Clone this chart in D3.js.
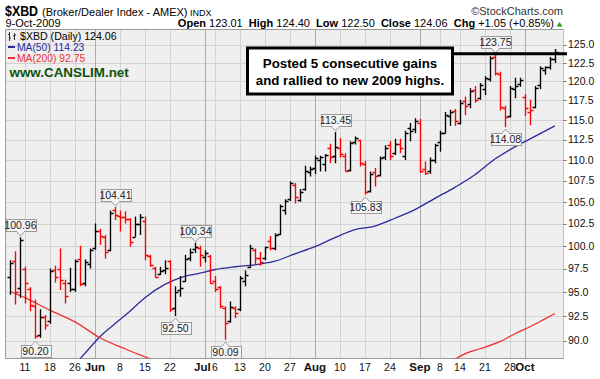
<!DOCTYPE html>
<html><head><meta charset="utf-8">
<script src="https://cdn.jsdelivr.net/npm/d3@7"></script>
<style>
body{margin:0;background:#fff}
svg{display:block}
text{font-family:"Liberation Sans",Arial,sans-serif}
</style>
</head><body><svg id="c" width="600" height="379"></svg>
<script>
// ---------- data ----------
const dates = [
"2009-05-06","2009-05-07","2009-05-08","2009-05-11","2009-05-12","2009-05-13","2009-05-14","2009-05-15","2009-05-18","2009-05-19","2009-05-20","2009-05-21","2009-05-22","2009-05-26","2009-05-27","2009-05-28","2009-05-29",
"2009-06-01","2009-06-02","2009-06-03","2009-06-04","2009-06-05","2009-06-08","2009-06-09","2009-06-10","2009-06-11","2009-06-12","2009-06-15","2009-06-16","2009-06-17","2009-06-18","2009-06-19","2009-06-22","2009-06-23","2009-06-24","2009-06-25","2009-06-26","2009-06-29","2009-06-30",
"2009-07-01","2009-07-02","2009-07-06","2009-07-07","2009-07-08","2009-07-09","2009-07-10","2009-07-13","2009-07-14","2009-07-15","2009-07-16","2009-07-17","2009-07-20","2009-07-21","2009-07-22","2009-07-23","2009-07-24","2009-07-27","2009-07-28","2009-07-29","2009-07-30","2009-07-31",
"2009-08-03","2009-08-04","2009-08-05","2009-08-06","2009-08-07","2009-08-10","2009-08-11","2009-08-12","2009-08-13","2009-08-14","2009-08-17","2009-08-18","2009-08-19","2009-08-20","2009-08-21","2009-08-24","2009-08-25","2009-08-26","2009-08-27","2009-08-28","2009-08-31",
"2009-09-01","2009-09-02","2009-09-03","2009-09-04","2009-09-08","2009-09-09","2009-09-10","2009-09-11","2009-09-14","2009-09-15","2009-09-16","2009-09-17","2009-09-18","2009-09-21","2009-09-22","2009-09-23","2009-09-24","2009-09-25","2009-09-28","2009-09-29","2009-09-30",
"2009-10-01","2009-10-02","2009-10-05","2009-10-06","2009-10-07","2009-10-08","2009-10-09"];

const open = [
96.6,98.3,95.4,97.5,95.3,93.5,90.6,92.4,92.0,97.3,97.5,96.0,96.0,95.3,98.5,96.0,98.0,
99.8,101.6,101.0,99.5,104.0,103.4,103.3,103.0,101.0,102.5,102.8,98.9,97.6,96.9,97.3,98.3,93.3,95.2,96.2,98.6,99.6,99.8,
98.8,98.9,96.2,95.5,93.3,92.0,93.3,93.2,96.2,97.7,99.5,98.6,98.6,100.5,99.8,101.3,104.0,105.3,107.0,105.2,106.5,108.5,
109.0,110.0,109.5,111.5,110.5,111.5,110.5,108.8,112.2,112.4,109.5,106.3,108.5,108.2,110.4,111.8,110.8,112.0,110.5,114.0,113.8,
114.6,108.9,108.6,110.0,112.2,113.3,115.5,116.1,114.6,117.4,117.0,118.9,117.8,119.0,120.3,123.3,121.0,116.5,115.5,119.0,119.6,
118.0,116.0,116.6,119.5,121.5,122.0,123.01];

const high = [
98.4,99.4,100.96,97.7,95.5,94.2,93.2,92.6,97.5,97.8,99.7,96.3,97.6,98.5,100.0,98.5,99.7,
102.5,101.9,101.2,104.0,104.41,104.0,103.9,103.1,103.3,103.6,103.3,99.0,97.7,97.7,98.4,98.4,95.6,96.7,99.0,99.7,100.34,100.0,
99.5,99.0,96.7,95.6,93.5,94.0,93.5,96.7,97.3,100.1,99.7,99.3,99.9,101.1,101.4,104.7,105.3,107.4,107.2,106.5,109.3,109.2,
110.5,110.5,110.7,112.0,113.45,112.7,110.8,112.3,112.9,112.5,109.9,108.6,109.0,110.4,111.8,112.3,112.6,112.6,113.6,114.6,115.2,
115.1,109.8,110.3,112.0,113.6,116.0,116.3,116.4,117.6,118.0,119.1,119.4,119.8,120.7,123.4,123.75,121.3,116.8,119.4,120.5,120.5,
118.3,117.6,119.4,122.0,122.0,123.3,124.40];

const low = [
94.7,93.7,94.4,93.8,93.0,90.20,90.3,91.1,91.7,96.0,95.2,93.8,95.0,95.0,95.6,95.6,97.5,
99.6,100.1,98.6,99.4,102.9,101.6,102.5,99.9,101.0,101.2,98.4,97.7,96.5,96.8,96.9,92.9,92.50,94.5,96.1,98.3,99.2,97.7,
98.2,95.9,95.0,93.3,90.09,91.8,92.3,93.0,95.6,97.6,97.9,97.8,98.4,99.5,99.5,101.2,103.5,105.1,104.8,105.0,106.3,108.0,
108.3,108.6,108.6,109.6,109.6,110.3,108.6,108.6,111.9,109.2,105.83,106.1,106.8,108.0,110.0,110.0,110.6,110.8,110.0,112.3,113.3,
108.4,108.2,108.3,109.6,111.0,113.3,114.2,114.2,114.4,115.6,116.5,117.2,117.6,118.2,120.0,120.8,116.2,114.08,115.3,117.8,119.3,
115.5,114.3,116.5,119.0,120.9,121.6,122.50];

const close = [
98.1,95.0,100.6,96.0,93.6,90.5,92.4,91.6,97.2,96.6,96.3,94.6,95.3,98.3,95.8,98.2,99.5,
101.6,101.1,99.3,103.7,103.5,103.2,103.0,100.4,102.5,103.3,99.0,97.9,96.6,97.2,97.6,93.2,95.0,95.4,98.5,99.3,99.9,99.0,
99.2,96.0,95.3,93.5,91.8,93.4,92.8,96.5,96.8,99.7,98.6,98.2,99.9,99.7,101.2,104.5,105.1,107.2,105.6,106.2,108.7,108.9,
110.2,110.3,110.6,110.4,111.6,110.7,108.7,112.1,112.7,109.6,106.2,108.3,108.0,110.2,111.5,110.5,112.0,111.4,113.3,113.6,114.8,
108.6,108.4,110.0,111.8,113.3,115.6,116.0,114.9,117.2,116.8,118.8,117.6,119.5,120.4,123.2,121.2,116.6,115.3,119.2,119.4,120.2,
116.5,116.2,119.2,121.8,121.9,123.01,124.06];

const closeBeforeFirst = 96.5;

const ma50Dates = ["2009-05-27","2009-05-29","2009-06-02","2009-06-05","2009-06-10","2009-06-15","2009-06-19","2009-06-24","2009-06-30","2009-07-06","2009-07-10","2009-07-16","2009-07-22","2009-07-28","2009-08-03","2009-08-07","2009-08-13","2009-08-19","2009-08-25","2009-08-31","2009-09-04","2009-09-11","2009-09-17","2009-09-23","2009-09-29","2009-10-05","2009-10-09"];
const ma50Values = [88.2,89.3,90.4,91.7,93.0,94.4,95.8,96.5,97.0,97.4,97.7,97.9,98.3,99.1,99.9,100.9,101.8,102.2,103.1,104.1,105.4,106.7,108.2,110.1,111.6,112.9,114.23];

const ma200aDates = ["2009-05-06","2009-05-11","2009-05-18","2009-05-26","2009-06-02","2009-06-09","2009-06-16","2009-06-17"];
const ma200aValues = [95.05,94.4,93.1,91.9,90.3,89.2,88.2,88.0];
const ma200bDates = ["2009-09-10","2009-09-15","2009-09-18","2009-09-24","2009-09-29","2009-10-02","2009-10-07","2009-10-09"];
const ma200bValues = [87.9,88.7,89.2,89.9,90.7,91.4,92.2,92.75];

const yTicks = [90.0,92.5,95.0,97.5,100.0,102.5,105.0,107.5,110.0,112.5,115.0,117.5,120.0,122.5,125.0];

const xTickDates = ["2009-05-11","2009-05-18","2009-05-26","2009-06-01","2009-06-08","2009-06-15","2009-06-22","2009-07-01","2009-07-06","2009-07-13","2009-07-20","2009-07-27","2009-08-03","2009-08-10","2009-08-17","2009-08-24","2009-09-01","2009-09-08","2009-09-14","2009-09-21","2009-09-28","2009-10-01"];
const xTickLabels = ["11","18","26","Jun","8","15","22","Jul","6","13","20","27","Aug","10","17","24","Sep","8","14","21","28","Oct"];
const xTickIsMonth = [0,0,0,1,0,0,0,1,0,0,0,0,1,0,0,0,1,0,0,0,0,1];

const calloutDates = ["2009-05-08","2009-05-13","2009-06-05","2009-06-23","2009-06-29","2009-07-08","2009-08-07","2009-08-17","2009-09-23","2009-09-25"];
const calloutValues = [100.96,90.20,104.41,92.50,100.34,90.09,113.45,105.83,123.75,114.08];
const calloutAbove = [1,0,1,0,1,0,1,0,1,0];

const resistanceLevel = 123.75;

// ---------- layout ----------
const svg = d3.select("#c");
const P = {l:5.5, t:29.5, r:563.5, b:358.5};

const x = d3.scalePoint().domain(dates).range([9.9, 554.9]);
const y = d3.scaleLog().domain([90,125]).range([340.7,44.7]);
const px = d => Math.round(x(d)) + 0.5;

svg.append("rect").attr("width",600).attr("height",379).attr("fill","#fff");
svg.append("rect").attr("x",P.l).attr("y",P.t).attr("width",P.r-P.l).attr("height",P.b-P.t).attr("fill","#efefef");

svg.append("defs").append("clipPath").attr("id","pc")
  .append("rect").attr("x",P.l).attr("y",P.t).attr("width",P.r-P.l).attr("height",P.b-P.t);

// grid
const grid = svg.append("g");
grid.selectAll("line.h").data(yTicks).join("line")
  .attr("x1",P.l).attr("x2",P.r)
  .attr("y1",d=>Math.round(y(d))+0.5).attr("y2",d=>Math.round(y(d))+0.5)
  .attr("stroke","#d3d3d3").attr("stroke-width",1);
grid.selectAll("line.v").data(xTickDates).join("line")
  .attr("x1",d=>px(d)).attr("x2",d=>px(d))
  .attr("y1",P.t).attr("y2",P.b)
  .attr("stroke",(d,i)=>xTickIsMonth[i]?"#ababab":"#d3d3d3").attr("stroke-width",1);

// frame
svg.append("path").attr("d",`M${P.r},${P.b}H${P.l}V${P.t}H${P.r}`)
  .attr("fill","none").attr("stroke","#9a9a9a").attr("stroke-width",1);
svg.append("line").attr("x1",P.r).attr("x2",P.r).attr("y1",P.t).attr("y2",P.b)
  .attr("stroke","#8a8a8a").attr("stroke-dasharray","1,1");

const plot = svg.append("g").attr("clip-path","url(#pc)");

// moving averages
const line = d3.line().x(d=>x(d[0])).y(d=>y(d[1])).curve(d3.curveMonotoneX);
plot.append("path").datum(ma50Dates.map((d,i)=>[d,ma50Values[i]]))
  .attr("d",line).attr("fill","none").attr("stroke","#2b2b9c").attr("stroke-width",1.3);
plot.append("path").datum(ma200aDates.map((d,i)=>[d,ma200aValues[i]]))
  .attr("d",line).attr("fill","none").attr("stroke","#f03030").attr("stroke-width",1.3);
plot.append("path").datum(ma200bDates.map((d,i)=>[d,ma200bValues[i]]))
  .attr("d",line).attr("fill","none").attr("stroke","#f03030").attr("stroke-width",1.3);

// OHLC bars
const bars = plot.append("g").selectAll("g").data(dates).join("g")
  .attr("stroke",(d,i)=> close[i] >= (i ? close[i-1] : closeBeforeFirst) ? "#000" : "#f00")
  .attr("stroke-width",1.35);
bars.append("line").attr("x1",d=>px(d)).attr("x2",d=>px(d))
  .attr("y1",(d,i)=>y(high[i])).attr("y2",(d,i)=>y(low[i]));
bars.append("line").attr("x1",d=>px(d)-3).attr("x2",d=>px(d))
  .attr("y1",(d,i)=>Math.round(y(open[i]))+0.5).attr("y2",(d,i)=>Math.round(y(open[i]))+0.5);
bars.append("line").attr("x1",d=>px(d)).attr("x2",d=>px(d)+3)
  .attr("y1",(d,i)=>Math.round(y(close[i]))+0.5).attr("y2",(d,i)=>Math.round(y(close[i]))+0.5);

// callouts
const co = svg.append("g");
calloutDates.forEach((d,i)=>{
  const cx = px(d), vy = y(calloutValues[i]);
  const w = 30, h = 12;
  let by, tri;
  if (calloutAbove[i]) {
    by = Math.round(vy - 6 - h) + 0.5;
    tri = `M${cx-4},${by+h}L${cx},${by+h+4.5}L${cx+4},${by+h}`;
  } else {
    by = Math.round(vy + 6) + 0.5;
    tri = `M${cx-4},${by}L${cx},${by-4.5}L${cx+4},${by}`;
  }
  const bx = Math.round(cx - w/2) + 0.5;
  co.append("path").attr("d",tri).attr("fill","#f4f4f4").attr("stroke","#9a9a9a");
  co.append("rect").attr("x",bx).attr("y",by).attr("width",w).attr("height",h)
    .attr("fill","#f4f4f4").attr("stroke","#9a9a9a");
  co.append("path").attr("d",calloutAbove[i]?`M${cx-3.5},${by+h}H${cx+3.5}`:`M${cx-3.5},${by}H${cx+3.5}`)
    .attr("stroke","#f4f4f4").attr("stroke-width",1.2);
  co.append("text").attr("x",cx).attr("y",by+h/2).attr("dy","0.36em")
    .attr("text-anchor","middle").attr("font-size",10.5).attr("fill","#222")
    .text(calloutValues[i].toFixed(2));
});

// annotation box and resistance line
svg.append("line").attr("x1",452).attr("x2",567).attr("y1",y(resistanceLevel)).attr("y2",y(resistanceLevel))
  .attr("stroke","#000").attr("stroke-width",3);
svg.append("rect").attr("x",247.5).attr("y",48).attr("width",205).attr("height",46)
  .attr("fill","#fff").attr("stroke","#000").attr("stroke-width",3);
svg.append("text").attr("x",350).attr("y",68).attr("text-anchor","middle")
  .attr("font-size",13.3).attr("font-weight","bold").text("Posted 5 consecutive gains");
svg.append("text").attr("x",350).attr("y",84.5).attr("text-anchor","middle")
  .attr("font-size",13.3).attr("font-weight","bold").text("and rallied to new 2009 highs.");

// y axis labels
const ya = svg.append("g");
ya.selectAll("line").data(yTicks).join("line")
  .attr("x1",P.r).attr("x2",P.r+3).attr("y1",d=>Math.round(y(d))+0.5).attr("y2",d=>Math.round(y(d))+0.5)
  .attr("stroke","#777");
ya.selectAll("text").data(yTicks).join("text")
  .attr("x",568).attr("y",d=>y(d)).attr("dy","0.36em")
  .attr("font-size",10.5).attr("fill","#111").text(d=>d.toFixed(1));

// x axis labels (a month label crowded by the next tick is nudged left)
svg.append("g").selectAll("text").data(xTickDates).join("text")
  .attr("x",(d,i)=> x(d) - (xTickIsMonth[i] && i+1 < xTickDates.length && x(xTickDates[i+1]) - x(d) < 12 ? 2.5 : 0))
  .attr("y",371).attr("text-anchor","middle")
  .attr("font-size",(d,i)=>xTickIsMonth[i]?11.5:10.5)
  .attr("font-weight",(d,i)=>xTickIsMonth[i]?"bold":"normal")
  .attr("fill","#111")
  .text((d,i)=>xTickLabels[i]);

// header
svg.append("text").attr("x",5).attr("y",15.5).attr("font-size",15).attr("font-weight","bold")
  .attr("textLength",33).attr("lengthAdjust","spacingAndGlyphs").text("$XBD");
svg.append("text").attr("x",42).attr("y",15.5).attr("font-size",11).text("(Broker/Dealer Index - AMEX)");
svg.append("text").attr("x",190).attr("y",15.5).attr("font-size",9).text("INDX");
svg.append("text").attr("x",563).attr("y",15).attr("text-anchor","end").attr("font-size",11)
  .attr("fill","#333").text("\u00A9StockCharts.com");
svg.append("text").attr("x",5.5).attr("y",27).attr("font-size",11).text("9-Oct-2009");
const st = svg.append("text").attr("x",554).attr("y",27).attr("text-anchor","end").attr("font-size",11);
[["Open",1],[" 123.01  ",0],["High",1],[" 124.40  ",0],["Low",1],[" 122.50  ",0],["Close",1],[" 124.06  ",0],["Chg",1],[" +1.05 (+0.85%)",0]]
  .forEach(([t,b])=>st.append("tspan").attr("font-weight",b?"bold":"normal").attr("xml:space","preserve").text(t));
svg.append("path").attr("d","M556.5,26.5L559.5,22L562.5,26.5Z").attr("fill","#1aa61a");

// legend
const lg = svg.append("g");
lg.append("path").attr("d","M9.5,32V41M8,34.5H9.5M9.5,38H11M14.5,33V40M13,36H14.5M14.5,35H16")
  .attr("stroke","#333").attr("fill","none").attr("stroke-width",1);
lg.append("text").attr("x",20).attr("y",40).attr("font-family","DejaVu Sans").attr("font-size",10.6)
  .text("$XBD (Daily) 124.06");
lg.append("line").attr("x1",8).attr("x2",15).attr("y1",47).attr("y2",47).attr("stroke","#2b2b9c").attr("stroke-width",2);
lg.append("text").attr("x",17).attr("y",50.5).attr("font-size",10.3).attr("fill","#2b2b9c").text("MA(50) 114.23");
lg.append("line").attr("x1",8).attr("x2",15).attr("y1",58).attr("y2",58).attr("stroke","#f03030").attr("stroke-width",2);
lg.append("text").attr("x",17).attr("y",61.5).attr("font-size",10.3).attr("fill","#f03030").text("MA(200) 92.75");
lg.append("text").attr("x",9.5).attr("y",76.5).attr("font-size",13.4).attr("font-weight","bold")
  .attr("fill","#0e520e").text("www.CANSLIM.net");
</script>
</body></html>
